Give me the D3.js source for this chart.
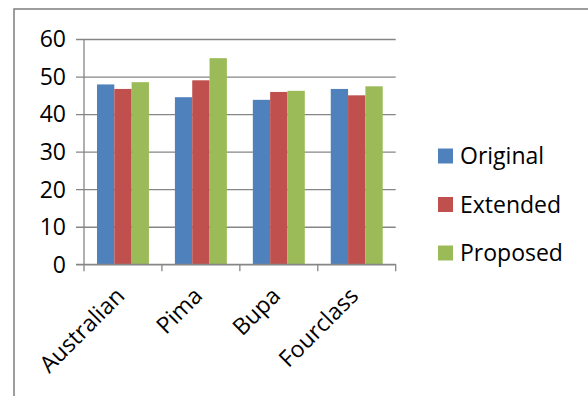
<!DOCTYPE html>
<html>
<head>
<meta charset="utf-8">
<script src="https://cdn.jsdelivr.net/npm/d3@7"></script>
<style>
  html, body { margin: 0; padding: 0; background: #fff; }
  svg { display: block; font-family: "Open Sans", "Noto Sans", sans-serif; }
</style>
</head>
<body>
<svg id="chart" width="588" height="396"></svg>
<script>
// Datasets and series values
const categories = ["Australian", "Pima", "Bupa", "Fourclass"];
const seriesNames = ["Original", "Extended", "Proposed"];
const original = [47.9, 44.5, 43.8, 46.7];
const extended = [46.7, 49.0, 45.9, 45.0];
const proposed = [48.5, 54.9, 46.2, 47.4];
const yTicks = [0, 10, 20, 30, 40, 50, 60];

const seriesValues = [original, extended, proposed];
const colors = ["#4F81BD", "#C0504D", "#9BBB59"];

const svg = d3.select("#chart");
const axisColor = "#868686";
const fontSize = 23;

// Outer chart frame
svg.append("rect")
  .attr("x", 14).attr("y", 9)
  .attr("width", 620).attr("height", 420)
  .attr("fill", "#fff")
  .attr("stroke", axisColor)
  .attr("stroke-width", 1.6);

const plot = { left: 84, right: 395.7, top: 39, bottom: 264.3 };

const x = d3.scaleBand()
  .domain(categories)
  .range([plot.left, plot.right])
  .paddingInner(0).paddingOuter(0);

const xs = d3.scaleBand()
  .domain(seriesNames)
  .range([0, x.bandwidth()])
  .paddingInner(0).paddingOuter(0.75);

const y = d3.scaleLinear().domain([0, 60]).range([plot.bottom, plot.top]);

// Horizontal gridlines with short outer ticks
const yAxis = d3.axisLeft(y)
  .tickValues(yTicks)
  .tickSize(-(plot.right - plot.left))
  .tickSizeOuter(0)
  .tickPadding(18);

const gy = svg.append("g")
  .attr("transform", `translate(${plot.left},0)`)
  .call(yAxis);
gy.select(".domain").remove();
gy.selectAll(".tick line")
  .attr("x1", -8)
  .attr("stroke", axisColor)
  .attr("stroke-width", 1.3);
gy.selectAll(".tick text")
  .attr("fill", "#000")
  .style("font-size", fontSize + "px")
  .style("font-family", "'Open Sans', sans-serif")
  .attr("dy", "0.34em");

// Vertical axis line
svg.append("line")
  .attr("x1", plot.left).attr("x2", plot.left)
  .attr("y1", plot.top).attr("y2", plot.bottom)
  .attr("stroke", axisColor).attr("stroke-width", 1.3);

// Bars
const groups = svg.append("g")
  .selectAll("g")
  .data(categories)
  .join("g")
  .attr("transform", d => `translate(${x(d)},0)`);

groups.selectAll("rect")
  .data((c, ci) => seriesNames.map((s, si) => ({ s, si, v: seriesValues[si][ci] })))
  .join("rect")
  .attr("x", d => xs(d.s))
  .attr("width", xs.bandwidth())
  .attr("y", d => y(d.v))
  .attr("height", d => y(0) - y(d.v))
  .attr("fill", d => colors[d.si]);

// Category axis with tick marks at band boundaries
const boundaries = categories.map(c => x(c)).concat([plot.right]);
svg.append("line")
  .attr("x1", plot.left - 8).attr("x2", plot.right)
  .attr("y1", plot.bottom).attr("y2", plot.bottom)
  .attr("stroke", axisColor).attr("stroke-width", 1.3);
svg.append("g")
  .selectAll("line")
  .data(boundaries)
  .join("line")
  .attr("x1", d => d).attr("x2", d => d)
  .attr("y1", plot.bottom).attr("y2", plot.bottom + 7)
  .attr("stroke", axisColor).attr("stroke-width", 1.3);

// Rotated category labels
svg.append("g")
  .selectAll("text")
  .data(categories)
  .join("text")
  .attr("transform", d => `translate(${x(d) + x.bandwidth() / 2 + 3},${plot.bottom + 33}) rotate(-45)`)
  .attr("text-anchor", "end")
  .style("font-size", fontSize + "px")
  .attr("fill", "#000")
  .text(d => d);

// Legend
const legend = svg.append("g")
  .selectAll("g")
  .data(seriesNames)
  .join("g")
  .attr("transform", (d, i) => `translate(438,${156 + i * 48.5})`);
legend.append("rect")
  .attr("x", 0).attr("y", -7.5)
  .attr("width", 15).attr("height", 15)
  .attr("fill", (d, i) => colors[i]);
legend.append("text")
  .attr("x", 22).attr("y", 0)
  .attr("dy", "0.36em")
  .style("font-size", fontSize + "px")
  .attr("fill", "#000")
  .text(d => d);
</script>
</body>
</html>
